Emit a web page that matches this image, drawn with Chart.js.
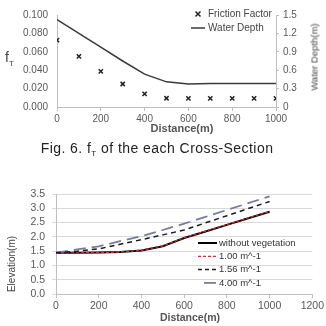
<!DOCTYPE html>
<html>
<head>
<meta charset="utf-8">
<script src="https://cdn.jsdelivr.net/npm/chart.js@4.4.0/dist/chart.umd.min.js"></script>
<style>
    body { margin: 0; background: #fff; width: 326px; height: 326px; overflow: hidden; position: relative; font-family: "Liberation Sans", Arial, sans-serif; }
    .box { position: absolute; left: 0; width: 326px; }
    .lbl { position: absolute; white-space: nowrap; color: #555; }
    .rot { transform: translate(-50%, -50%) rotate(-90deg); }
    .ctr { transform: translate(-50%, -50%); }
</style>
</head>
<body>
<div class="box" style="top:0;height:140px"><canvas id="topChart" width="326" height="140"></canvas></div>
<div class="box" style="top:160px;height:166px"><canvas id="bottomChart" width="326" height="166"></canvas></div>

<div class="lbl" style="left:5px;top:49px;font-size:14px;color:#444">f<sub style="font-size:8px">T</sub></div>
<div class="lbl rot" style="left:314px;top:57px;font-size:9.5px;color:#444">Water Depth(m)</div>
<div class="lbl ctr" style="left:182px;top:128px;font-size:11px;font-weight:bold">Distance(m)</div>
<div class="lbl ctr" style="left:157px;top:149px;font-size:14px;letter-spacing:0.45px;color:#222">Fig. 6. f<sub style="font-size:8px">T</sub> of the each Cross-Section</div>
<div class="lbl rot" style="left:11px;top:264px;font-size:10px;color:#444">Elevation(m)</div>
<div class="lbl ctr" style="left:190px;top:317px;font-size:10.5px;font-weight:bold">Distance(m)</div>

<script>
// Fig. 6 - friction factor and water depth along the section
const distances = [0, 100, 200, 300, 400, 500, 600, 700, 800, 900, 1000];
const frictionFactor = [0.0727, 0.055, 0.0387, 0.025, 0.0143, 0.0095, 0.0093, 0.0093, 0.0093, 0.0093, 0.0093];
const waterDepth = [1.425, 1.2, 0.975, 0.75, 0.535, 0.41, 0.375, 0.383, 0.385, 0.385, 0.385];

// elevation vs distance
const elevNoVeg = [1.44, 1.44, 1.45, 1.47, 1.52, 1.67, 1.96, 2.19, 2.42, 2.65, 2.88];
const elev100 = [1.44, 1.44, 1.45, 1.47, 1.53, 1.68, 1.97, 2.20, 2.43, 2.66, 2.89];
const elev156 = [1.44, 1.50, 1.58, 1.74, 1.90, 2.07, 2.24, 2.49, 2.74, 2.99, 3.24];
const elev400 = [1.45, 1.56, 1.67, 1.85, 2.02, 2.24, 2.46, 2.70, 2.94, 3.18, 3.42];

const fTicks = [0, 0.02, 0.04, 0.06, 0.08, 0.1];
const depthTicks = [0, 0.3, 0.6, 0.9, 1.2, 1.5];
const elevTicks = [0, 0.5, 1, 1.5, 2, 2.5, 3, 3.5];

function pts(ys) {
    return distances.map((d, i) => ({ x: d, y: ys[i] }));
}

const tickFont = { family: '"Liberation Sans", Arial, sans-serif', size: 10 };
const axisGray = '#bfbfbf';

// legend drawn inside the plot area
const innerLegend = {
    id: 'innerLegend',
    afterDraw(chart, args, opts) {
        const ctx = chart.ctx;
        ctx.save();
        ctx.font = opts.font;
        ctx.textBaseline = 'middle';
        chart.data.datasets.forEach((ds, i) => {
            const y = opts.top + i * opts.spacing;
            const x = opts.left;
            ctx.strokeStyle = ds.borderColor;
            ctx.lineWidth = ds.borderWidth;
            if (ds.showLine === false) {
                const cx = x + opts.len / 2, r = 2.5;
                ctx.beginPath();
                ctx.moveTo(cx - r, y - r); ctx.lineTo(cx + r, y + r);
                ctx.moveTo(cx + r, y - r); ctx.lineTo(cx - r, y + r);
                ctx.stroke();
            } else {
                ctx.setLineDash(ds.legendDash || ds.borderDash || []);
                ctx.beginPath();
                ctx.moveTo(x, y); ctx.lineTo(x + opts.len, y);
                ctx.stroke();
                ctx.setLineDash([]);
            }
            ctx.fillStyle = opts.color;
            ctx.fillText(ds.label, x + opts.len + opts.gap, y);
        });
        ctx.restore();
    }
};

new Chart(document.getElementById('topChart'), {
    type: 'line',
    data: {
        datasets: [{
            label: 'Friction Factor',
            data: pts(frictionFactor),
            yAxisID: 'y',
            showLine: false,
            borderColor: '#222',
            backgroundColor: '#222',
            borderWidth: 1.5,
            pointStyle: 'crossRot',
            pointRadius: 3
        }, {
            label: 'Water Depth',
            data: pts(waterDepth),
            yAxisID: 'y1',
            borderColor: '#3a3a3a',
            borderWidth: 1.5,
            pointRadius: 0,
            tension: 0
        }]
    },
    options: {
        responsive: false,
        animation: false,
        layout: { padding: { top: 7, left: 0, right: 0, bottom: 0 } },
        plugins: {
            legend: { display: false },
            tooltip: { enabled: false },
            innerLegend: { left: 191, top: 14, spacing: 14, len: 14, gap: 3, font: '10px "Liberation Sans", Arial, sans-serif', color: '#444' }
        },
        scales: {
            x: {
                type: 'linear', min: 0, max: 1000,
                ticks: { stepSize: 200, color: '#595959', font: tickFont, padding: 2, maxRotation: 0, callback: v => String(v) },
                grid: { drawOnChartArea: false, tickLength: 4, color: axisGray },
                border: { color: axisGray },
                afterFit(s) { s.height = 33; }
            },
            y: {
                position: 'left', min: 0, max: 0.1,
                afterBuildTicks(s) { s.ticks = fTicks.map(v => ({ value: v })); },
                ticks: { color: '#595959', font: tickFont, padding: 9, autoSkip: false, callback: v => v.toFixed(3) },
                grid: { drawOnChartArea: false, drawTicks: false },
                border: { color: axisGray },
                afterFit(s) { s.width = 57; }
            },
            y1: {
                position: 'right', min: 0, max: 1.5,
                afterBuildTicks(s) { s.ticks = depthTicks.map(v => ({ value: v })); },
                ticks: { color: '#595959', font: tickFont, padding: 4, autoSkip: false, callback: v => v === 0 ? '0' : v.toFixed(1) },
                grid: { drawOnChartArea: false, tickLength: 3, color: axisGray },
                border: { color: axisGray },
                afterFit(s) { s.width = 50; }
            }
        }
    },
    plugins: [innerLegend]
});

new Chart(document.getElementById('bottomChart'), {
    type: 'line',
    data: {
        datasets: [{
            label: 'without vegetation',
            data: pts(elevNoVeg),
            borderColor: '#000',
            borderWidth: 2,
            pointRadius: 0,
            order: 2
        }, {
            label: '1.00 m^-1',
            data: pts(elev100),
            borderColor: '#d0303a',
            borderWidth: 1.3,
            borderDash: [3, 2],
            pointRadius: 0,
            order: 1
        }, {
            label: '1.56 m^-1',
            data: pts(elev156),
            borderColor: '#1a1a1a',
            borderWidth: 1.5,
            borderDash: [5, 4],
            legendDash: [4, 3],
            pointRadius: 0,
            order: 0
        }, {
            label: '4.00 m^-1',
            data: pts(elev400),
            borderColor: '#7a7a9e',
            borderWidth: 1.8,
            borderDash: [12, 6],
            legendDash: [0, 6, 12, 6],
            pointRadius: 0,
            order: 0
        }]
    },
    options: {
        responsive: false,
        animation: false,
        layout: { padding: { top: 34, left: 0, right: 0, bottom: 0 } },
        plugins: {
            legend: { display: false },
            tooltip: { enabled: false },
            innerLegend: { left: 198, top: 83, spacing: 13.3, len: 19, gap: 2, font: '9.5px "Liberation Sans", Arial, sans-serif', color: '#333' }
        },
        scales: {
            x: {
                type: 'linear', min: 0, max: 1200,
                ticks: { stepSize: 200, color: '#595959', font: { ...tickFont, size: 10.5 }, padding: 2, maxRotation: 0, autoSkip: false, callback: v => String(v) },
                grid: { drawOnChartArea: false, tickLength: 4, color: axisGray },
                border: { color: axisGray },
                afterFit(s) { s.height = 32; }
            },
            y: {
                min: 0, max: 3.5,
                afterBuildTicks(s) { s.ticks = elevTicks.map(v => ({ value: v })); },
                ticks: { color: '#595959', font: { ...tickFont, size: 10.5 }, padding: 7, autoSkip: false, callback: v => v.toFixed(1) },
                grid: { color: '#d9d9d9', tickLength: 4 },
                border: { color: axisGray },
                afterFit(s) { s.width = 56; }
            }
        }
    },
    plugins: [innerLegend]
});
</script>
</body>
</html>
